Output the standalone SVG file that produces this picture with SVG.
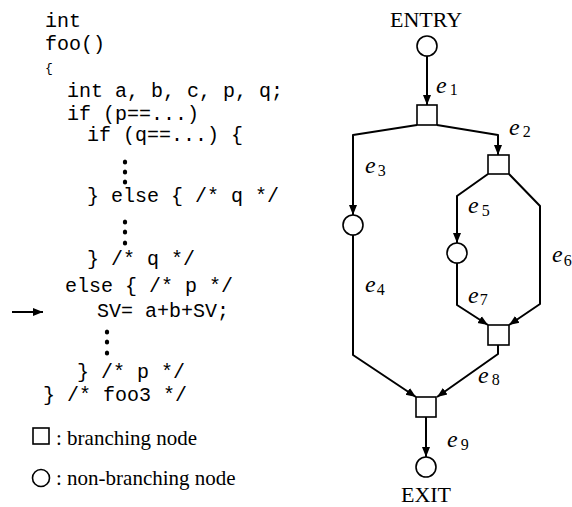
<svg xmlns="http://www.w3.org/2000/svg" width="572" height="507" viewBox="0 0 572 507">
<style>
.code{font-family:"Liberation Mono","Courier New",monospace;font-size:20px;fill:#000}
.lab{font-family:"Liberation Serif","Times New Roman",serif;fill:#000}
.e{font-style:italic;font-size:24px}
.sub{font-size:16px;font-style:normal}
.title{font-family:"Liberation Serif","Times New Roman",serif;font-size:22px;fill:#000}
.leg{font-family:"Liberation Serif","Times New Roman",serif;font-size:21px;fill:#000}
.node{fill:#fff;stroke:#000;stroke-width:1.6}
.edge{fill:none;stroke:#000;stroke-width:2;stroke-linejoin:round}
.dot{fill:#000}
</style>
<defs>
<marker id="ah" markerUnits="userSpaceOnUse" markerWidth="10" markerHeight="10" viewBox="0 0 10 10" refX="10" refY="5" orient="auto">
<path d="M0,1 L10,5 L0,9 Z" fill="#000"/>
</marker>
</defs>

<g id="code">
<text class="code" x="45" y="27">int</text>
<text class="code" x="45" y="50">foo()</text>
<text class="code" x="45" y="72" style="font-size:13px">{</text>
<text class="code" x="67" y="97">int a, b, c, p, q;</text>
<text class="code" x="67" y="120">if (p==...)</text>
<text class="code" x="87" y="141">if (q==...) {</text>
<ellipse class="dot" cx="125" cy="162" rx="2.2" ry="2.5"/>
<ellipse class="dot" cx="125" cy="172" rx="2.2" ry="2.5"/>
<ellipse class="dot" cx="125" cy="182" rx="2.2" ry="2.5"/>
<text class="code" x="87" y="202">} else { /* q */</text>
<ellipse class="dot" cx="125" cy="222" rx="2.2" ry="2.5"/>
<ellipse class="dot" cx="125" cy="232" rx="2.2" ry="2.5"/>
<ellipse class="dot" cx="125" cy="243" rx="2.2" ry="2.5"/>
<text class="code" x="87" y="265">} /* q */</text>
<text class="code" x="65" y="292">else { /* p */</text>
<text class="code" x="97" y="317">SV= a+b+SV;</text>
<ellipse class="dot" cx="107" cy="332" rx="2.2" ry="2.5"/>
<ellipse class="dot" cx="107" cy="342" rx="2.2" ry="2.5"/>
<ellipse class="dot" cx="107" cy="353" rx="2.2" ry="2.5"/>
<text class="code" x="77" y="378">} /* p */</text>
<text class="code" x="43" y="401">} /* foo3 */</text>
<line class="edge" x1="12" y1="312" x2="43" y2="312" marker-end="url(#ah)"/>
</g>

<g id="legend">
<rect class="node" x="33" y="428" width="16" height="16"/>
<text class="leg" x="56" y="445">: branching node</text>
<circle class="node" cx="41" cy="478" r="8.5"/>
<text class="leg" x="56" y="485">: non-branching node</text>
</g>

<g id="edges">
<path class="edge" d="M427,56 L427,105" marker-end="url(#ah)"/>
<path class="edge" d="M417,125 L353,135 L353,215" marker-end="url(#ah)"/>
<path class="edge" d="M437,125 L498,135 L498,155" marker-end="url(#ah)"/>
<path class="edge" d="M488,174 L457,196 L457,243" marker-end="url(#ah)"/>
<path class="edge" d="M509,174 L540,206 L540,304 L509,325" marker-end="url(#ah)"/>
<path class="edge" d="M457,263 L457,305 L488,325" marker-end="url(#ah)"/>
<path class="edge" d="M498,345 L498,354 L437,397" marker-end="url(#ah)"/>
<path class="edge" d="M353,235 L353,355 L416,397" marker-end="url(#ah)"/>
<path class="edge" d="M426,417 L426,457" marker-end="url(#ah)"/>
</g>

<g id="labels">
<text class="lab" x="436" y="93"><tspan class="e">e</tspan><tspan class="sub" dx="3" dy="2">1</tspan></text>
<text class="lab" x="509" y="135"><tspan class="e">e</tspan><tspan class="sub" dx="3" dy="2">2</tspan></text>
<text class="lab" x="365" y="173"><tspan class="e">e</tspan><tspan class="sub" dx="2" dy="3">3</tspan></text>
<text class="lab" x="365" y="292"><tspan class="e">e</tspan><tspan class="sub" dx="1" dy="3">4</tspan></text>
<text class="lab" x="468" y="213"><tspan class="e">e</tspan><tspan class="sub" dx="3" dy="3">5</tspan></text>
<text class="lab" x="552" y="262"><tspan class="e">e</tspan><tspan class="sub" dx="1" dy="4">6</tspan></text>
<text class="lab" x="468" y="303"><tspan class="e">e</tspan><tspan class="sub" dx="1" dy="2">7</tspan></text>
<text class="lab" x="478" y="383"><tspan class="e">e</tspan><tspan class="sub" dx="3" dy="2">8</tspan></text>
<text class="lab" x="447" y="447"><tspan class="e">e</tspan><tspan class="sub" dx="3" dy="3">9</tspan></text>
</g>

<g id="entry"><text class="title" x="426" y="27" text-anchor="middle">ENTRY</text><circle class="node" cx="427" cy="46" r="10"/></g>
<g id="b1"><rect class="node" x="417" y="105" width="20" height="20"/></g>
<g id="nA"><circle class="node" cx="353" cy="225" r="10"/></g>
<g id="b2"><rect class="node" x="488" y="155" width="21" height="19"/></g>
<g id="nB"><circle class="node" cx="457" cy="253" r="10"/></g>
<g id="b3"><rect class="node" x="488" y="325" width="21" height="20"/></g>
<g id="b4"><rect class="node" x="416" y="397" width="20" height="20"/></g>
<g id="exit"><circle class="node" cx="426" cy="467" r="10"/><text class="title" x="426" y="502" text-anchor="middle">EXIT</text></g>
</svg>
